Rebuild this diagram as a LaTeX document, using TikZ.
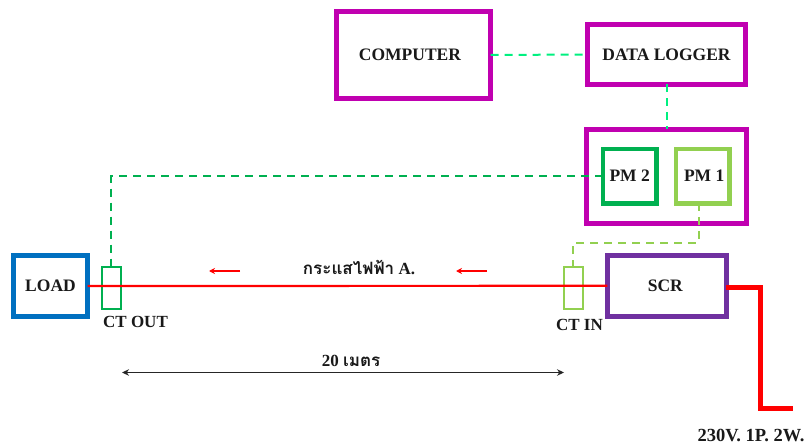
\documentclass[tikz,border=0pt]{standalone}
\usepackage{fontspec}
\setmainfont{Liberation Serif}
\newfontfamily\thaifont[Script=Thai]{Loma}
\usetikzlibrary{arrows.meta}
\definecolor{mag}{HTML}{C000B0}
\definecolor{loadblue}{HTML}{0070C0}
\definecolor{scrpurple}{HTML}{7030A0}
\definecolor{dgreen}{HTML}{00B050}
\definecolor{lgreen}{HTML}{92D050}
\definecolor{sgreen}{HTML}{00F080}
\tikzset{
  box/.style={draw=#1,line width=4.6pt,fill=none,inner sep=0pt,outer sep=0pt,font=\fontsize{17.5}{20}\selectfont\bfseries,text=black!90},
  ctbox/.style={draw=#1,line width=2.4pt,fill=none,inner sep=0pt,outer sep=0pt,minimum width=19pt,minimum height=42pt},
  lbl/.style={inner sep=0pt,outer sep=0pt,font=\fontsize{17}{20}\selectfont\bfseries,text=black!90,anchor=center},
  dashline/.style={draw=#1,line width=2pt,dash pattern=on 8pt off 6pt},
  current/.style={draw=red,line width=2.2pt},
  flow/.style={draw=red,line width=1.6pt,-{Stealth[length=6pt,width=6pt]}},
  dim/.style={draw=black!85,line width=1pt,{Stealth[length=7pt,width=6.5pt]}-{Stealth[length=7pt,width=6.5pt]}}
}
\begin{document}
\begin{tikzpicture}[x=1pt,y=-1pt]
\useasboundingbox (0,0) rectangle (805,446);
\node[box=mag,minimum width=154pt,minimum height=87pt] (computer) at (413.5,55) {\hspace*{-7pt}COMPUTER};
\node[box=mag,minimum width=158pt,minimum height=60pt] (logger) at (666.5,54.5) {DATA LOGGER};
\node[box=mag,minimum width=160pt,minimum height=94pt] (pmbox) at (666.5,176.5) {};
\node[box=dgreen,minimum width=53.5pt,minimum height=54.5pt] (pmtwo) at (629.7,176.2) {PM 2};
\node[box=lgreen,minimum width=53.5pt,minimum height=54.5pt] (pmone) at (702.7,176.2) {\hspace*{3pt}PM 1};
\node[box=scrpurple,minimum width=119pt,minimum height=61pt] (scr) at (666.8,285.8) {\hspace*{-3pt}SCR};
\node[box=loadblue,minimum width=74.4pt,minimum height=61.4pt] (load) at (50.5,286) {LOAD};
\node[ctbox=dgreen] (ctout) at (111.3,288) {};
\node[ctbox=lgreen] (ctin) at (573.4,288) {};
\coordinate (gcorner) at (ctout.north |- pmtwo.west);
\coordinate (lstart) at ([xshift=-4pt]pmone.south);
\coordinate (lcornera) at (lstart |- 0,242.7);
\coordinate (lcornerb) at (ctin.north |- 0,242.7);
\coordinate (feedstart) at ([yshift=-1.5pt]scr.east);
\coordinate (feedlow) at (760.7,408);
\coordinate (feedend) at (793,408);
\coordinate (flowa) at (240,271);
\coordinate (flowaend) at (209,271);
\coordinate (flowb) at (487,271);
\coordinate (flowbend) at (456,271);
\coordinate (dima) at (122,372.5);
\coordinate (dimb) at (564,372.5);
\draw[dashline=sgreen] (computer.east) -- (logger.west);
\draw[dashline=sgreen] (logger.south) -- (pmbox.north);
\draw[dashline=dgreen] (pmtwo.west) -- (gcorner) -- (ctout.north);
\draw[dashline=lgreen] (lstart) -- (lcornera) -- (lcornerb) -- (ctin.north);
\draw[current] (load.east) -- (scr.west);
\draw[draw=red,line width=5pt] (feedstart) -| (feedlow) -- (feedend);
\draw[flow] (flowa) -- (flowaend);
\draw[flow] (flowb) -- (flowbend);
\draw[dim] (dima) -- (dimb);
\node[lbl] (ctoutl) at (135.5,322) {CT OUT};
\node[lbl] (ctinl) at (579.5,324.5) {CT IN};
\node[lbl] (amp) at (359,268) {{\thaifont กระแสไฟฟ้า} A.};
\node[lbl] (dist) at (351,361) {20 {\thaifont เมตร}};
\node[lbl,font=\fontsize{18.5}{20}\selectfont\bfseries] (supply) at (751,435) {230V. 1P. 2W.};
\end{tikzpicture}
\end{document}
